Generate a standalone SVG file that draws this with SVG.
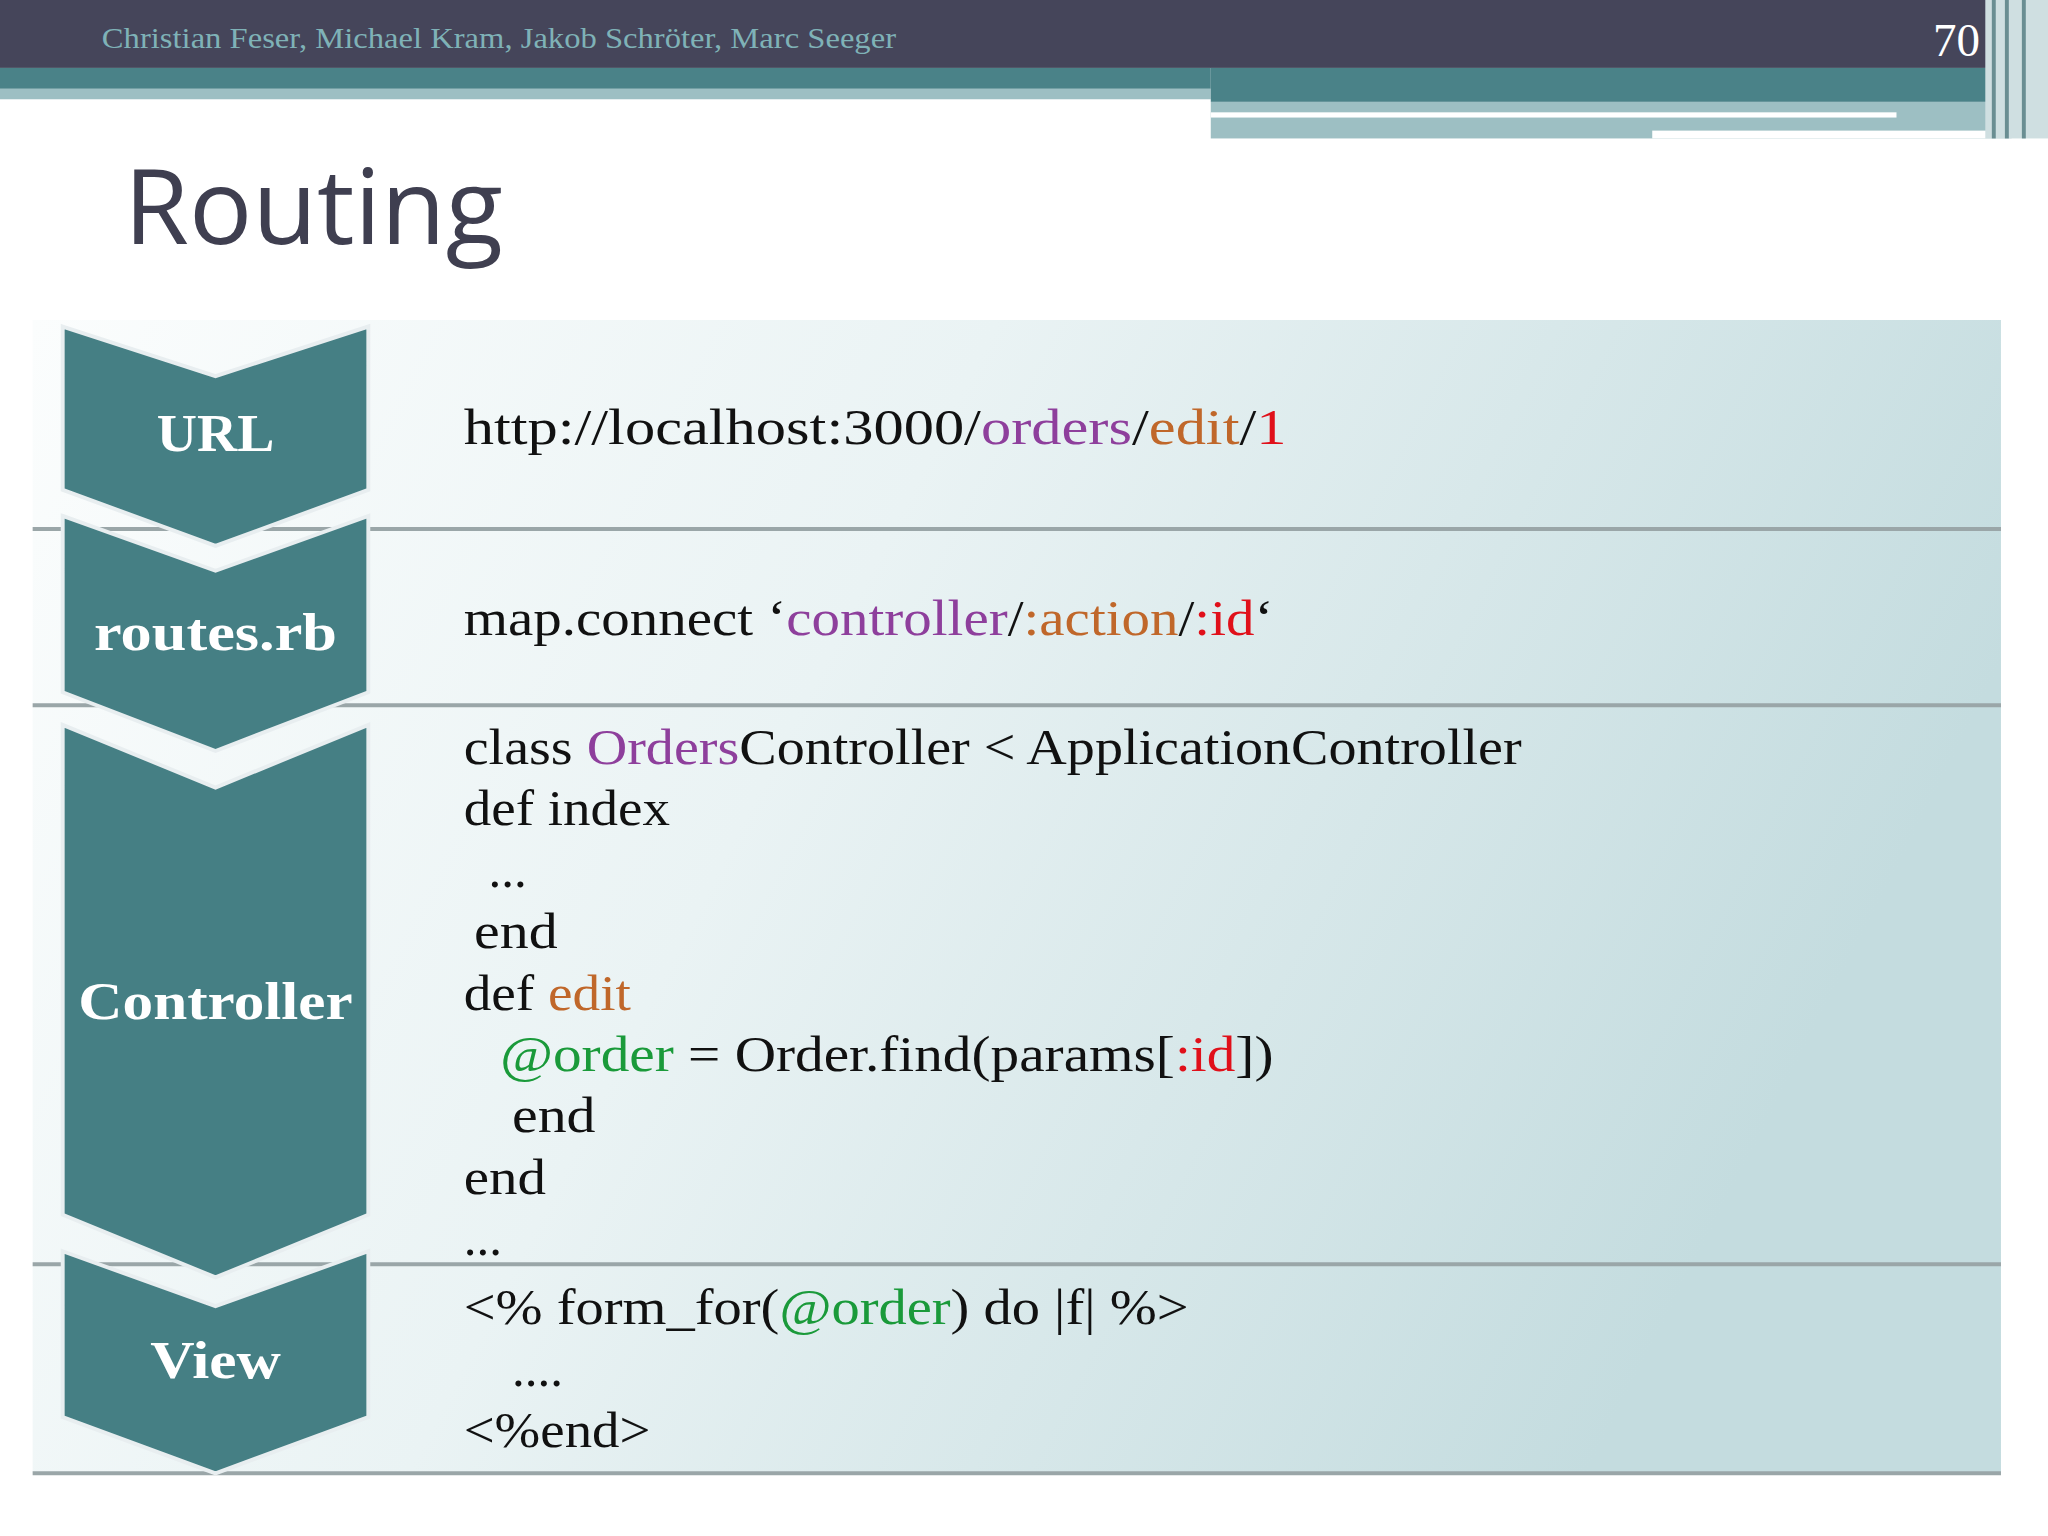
<svg xmlns="http://www.w3.org/2000/svg" width="2048" height="1536" viewBox="0 0 2048 1536">
<defs>
<linearGradient id="pg" x1="0" y1="0" x2="1" y2="0.3">
<stop offset="0" stop-color="#fbfdfd"/><stop offset="0.45" stop-color="#eaf3f4"/><stop offset="1" stop-color="#c4dcdf"/>
</linearGradient>
<style>
.chev{fill:#457f84;stroke:#e8eef0;stroke-width:3}
.lab{font-family:"Liberation Serif",serif;font-weight:bold;font-size:40px;fill:#fff;text-anchor:middle}
.code{font-family:"Liberation Serif",serif;font-size:39px;fill:#111}
.p{fill:#8e3f9c}.o{fill:#c0672a}.r{fill:#e0101a}.g{fill:#1a9a3a}
.sep{stroke:#9aa6a8;stroke-width:3}
</style>
</defs>
<g transform="scale(1.30612)">
<rect width="1568" height="1176" fill="#fff"/>
<g id="header">
<rect x="0" y="0" width="1568" height="52" fill="#45455a"/>
<rect x="0" y="52" width="927" height="16" fill="#4a8288"/>
<rect x="0" y="68" width="927" height="8" fill="#9dbfc3"/>
<rect x="927" y="52" width="613" height="26" fill="#4a8288"/>
<rect x="927" y="78" width="613" height="28" fill="#9dbfc3"/>
<rect x="927" y="86" width="525" height="4" fill="#fff"/>
<rect x="1265" y="100" width="275" height="6" fill="#fff"/>
<rect x="1520" y="0" width="48" height="106" fill="#cfdfe1"/>
<rect x="1525" y="0" width="3" height="106" fill="#6a8e92"/>
<rect x="1535" y="0" width="3" height="106" fill="#6a8e92"/>
<rect x="1548" y="0" width="3" height="106" fill="#6a8e92"/>
<text x="78" y="37" font-family="Liberation Serif,serif" font-size="23" fill="#7fb2b7" textLength="608" lengthAdjust="spacingAndGlyphs">Christian Feser, Michael Kram, Jakob Schröter, Marc Seeger</text>
<text x="1516" y="43" font-family="Liberation Serif,serif" font-size="36" fill="#fff" text-anchor="end">70</text>
</g>
<text id="title" x="95" y="187" font-family="Open Sans,sans-serif" font-size="80" fill="#3f3f50" textLength="290" lengthAdjust="spacingAndGlyphs">Routing</text>
<g id="panel">
<rect x="25" y="245" width="1507" height="883" fill="url(#pg)"/>
<line class="sep" x1="25" y1="405" x2="1532" y2="405"/>
<line class="sep" x1="25" y1="540" x2="1532" y2="540"/>
<line class="sep" x1="25" y1="968" x2="1532" y2="968"/>
<line class="sep" x1="25" y1="1128" x2="1532" y2="1128"/>
</g>
<g id="n-url"><polygon class="chev" points="48,250 165,288 282,250 282,375 165,418 48,375"/><text class="lab" x="165" y="345" textLength="90" lengthAdjust="spacingAndGlyphs">URL</text></g>
<g id="n-routes"><polygon class="chev" points="48,395 165,437 282,395 282,530 165,575 48,530"/><text class="lab" x="165" y="498" textLength="186" lengthAdjust="spacingAndGlyphs">routes.rb</text></g>
<g id="n-controller"><polygon class="chev" points="48,555 165,603 282,555 282,930 165,978 48,930"/><text class="lab" x="165" y="780" textLength="210" lengthAdjust="spacingAndGlyphs">Controller</text></g>
<g id="n-view"><polygon class="chev" points="48,958 165,1000 282,958 282,1085 165,1128 48,1085"/><text class="lab" x="165" y="1055" textLength="100" lengthAdjust="spacingAndGlyphs">View</text></g>
<g id="code">
<text class="code" x="355" y="340" textLength="630" lengthAdjust="spacingAndGlyphs">http://localhost:3000/<tspan class="p">orders</tspan>/<tspan class="o">edit</tspan>/<tspan class="r">1</tspan></text>
<text class="code" x="355" y="486" textLength="620" lengthAdjust="spacingAndGlyphs">map.connect ‘<tspan class="p">controller</tspan>/<tspan class="o">:action</tspan>/<tspan class="r">:id</tspan>‘</text>
<text class="code" x="355" y="585" textLength="810" lengthAdjust="spacingAndGlyphs">class <tspan class="p">Orders</tspan>Controller &lt; ApplicationController</text>
<text class="code" x="355" y="632" textLength="158" lengthAdjust="spacingAndGlyphs">def index</text>
<text class="code" x="374" y="679">...</text>
<text class="code" x="363" y="726" textLength="64" lengthAdjust="spacingAndGlyphs">end</text>
<text class="code" x="355" y="773" textLength="128" lengthAdjust="spacingAndGlyphs">def <tspan class="o">edit</tspan></text>
<text class="code" x="383" y="820" textLength="592" lengthAdjust="spacingAndGlyphs"><tspan class="g">@order</tspan> = Order.find(params[<tspan class="r">:id</tspan>])</text>
<text class="code" x="392" y="867" textLength="64" lengthAdjust="spacingAndGlyphs">end</text>
<text class="code" x="355" y="914" textLength="63" lengthAdjust="spacingAndGlyphs">end</text>
<text class="code" x="355" y="961">...</text>
<text class="code" x="355" y="1014" textLength="555" lengthAdjust="spacingAndGlyphs">&lt;% form_for(<tspan class="g">@order</tspan>) do |f| %&gt;</text>
<text class="code" x="392" y="1061">....</text>
<text class="code" x="355" y="1108" textLength="143" lengthAdjust="spacingAndGlyphs">&lt;%end&gt;</text>
</g>
</g>
</svg>
